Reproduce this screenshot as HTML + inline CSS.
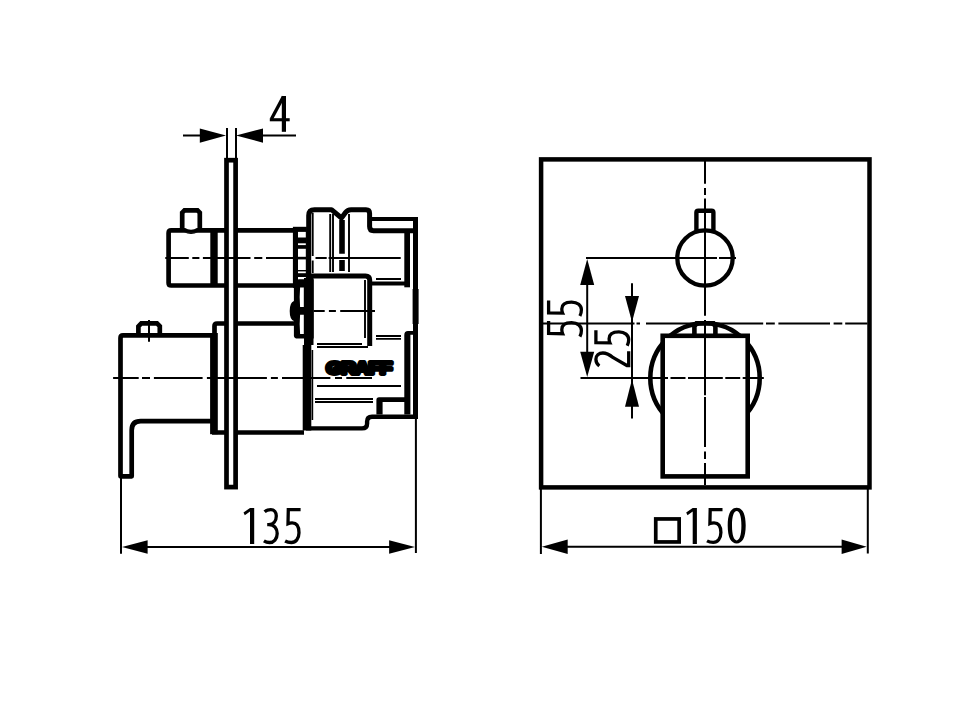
<!DOCTYPE html>
<html><head><meta charset="utf-8"><title>Drawing</title>
<style>
html,body{margin:0;padding:0;background:#fff;width:965px;height:711px;overflow:hidden;}
svg{display:block;}
.t{font-family:"Liberation Sans",sans-serif;fill:#000;}
</style></head><body>
<svg width="965" height="711" viewBox="0 0 965 711">
<rect x="0" y="0" width="965" height="711" fill="#fff"/>
<defs>
  <path id="d1" d="M6.5 0 H10.7 V36 H6.5 V3.4 L1.3 7.2 L0 4.4 Z" fill="#000" stroke="none"/>
  <path id="d3" d="M1.6 3.6 C3.2 2.2 5.5 1.6 7.8 1.6 C11.4 1.6 13.3 4.2 13.3 8 C13.3 13 10.4 16.5 5.8 16.5 H4.2 M5.8 16.5 C11.2 16.5 14.2 20 14.2 25.5 C14.2 30.8 10.8 34.4 6.6 34.4 C4.6 34.4 2.6 33.9 0.9 32.8" fill="none" stroke="#000" stroke-width="3.3"/>
  <path id="d5" d="M16.5 1.6 H4.2 L3.9 15.6 C5.2 15.0 6.6 14.8 8 14.8 C12.6 14.8 14.9 18.6 14.9 24.6 C14.9 30.6 11.6 34.4 7.2 34.4 C4.8 34.4 2.8 33.9 1 32.9" fill="none" stroke="#000" stroke-width="3.3"/>
  <path id="d0" fill-rule="evenodd" fill="#000" stroke="none" d="M9.2 -0.2 C14.6 -0.2 18.2 5.1 18.2 17.6 C18.2 30.1 14.6 35.5 9.2 35.5 C3.8 35.5 0.2 30.1 0.2 17.6 C0.2 5.1 3.8 -0.2 9.2 -0.2 Z M9.2 2.9 C12 2.9 13.9 8 13.9 17.6 C13.9 27.2 12 32.4 9.2 32.4 C6.4 32.4 4.5 27.2 4.5 17.6 C4.5 8 6.4 2.9 9.2 2.9 Z"/>
  <path id="d2" d="M1.3 5 C3.2 2.6 5.5 1.6 8 1.6 C11.8 1.6 14.3 4.4 14.3 8.6 C14.3 12.6 12.6 15.2 9.6 19 L1.8 32.6 V34.4 H16" fill="none" stroke="#000" stroke-width="3.3"/>
  <g id="d4"><rect x="12" y="0" width="4.2" height="35.8" fill="#000"/><rect x="0" y="22.2" width="19.9" height="3.1" fill="#000"/><path d="M13.6 0.6 L1.6 23" stroke="#000" stroke-width="3.3" fill="none"/></g>
</defs>

<!-- ===== RIGHT VIEW ===== -->
<g id="right" stroke="#000" fill="none" stroke-linecap="butt" stroke-linejoin="miter">
  <rect x="541.1" y="159.4" width="328.4" height="328" stroke-width="4.5"/>
  <!-- top knob circle -->
  <circle cx="705" cy="258" r="27.7" stroke-width="4.3"/>
  <path d="M696.4 233 V212.5 Q696.4 210.7 698.2 210.7 H711.6 Q713.4 210.7 713.4 212.5 V233" stroke-width="4.4" fill="none"/>
  <!-- big circle -->
  <circle cx="705" cy="378" r="54.7" stroke-width="4.6"/>
  <!-- lever knob -->
  <path d="M694.4 336 V326.5 L696.6 323.3 H713.4 L715.4 326.5 V336" stroke-width="4.6"/>
  <!-- lever rect -->
  <rect x="662.7" y="335.8" width="85" height="140.6" stroke-width="4.6" fill="#fff"/>
</g>
<g stroke="#000" fill="none" stroke-width="2">
  <!-- vertical centerline right view -->
  <path d="M705 161 V183.8 M705 188 V195 M705 198.4 V315.8 M705 320 V395.2 M705 396.9 V447 M705 451.4 V459 M705 463 V485"/>
  <!-- horizontal centerline y=323.6 -->
  <path d="M542.5 323.6 H634.5 M636.5 323.6 H640 M646 323.6 H763.2 M766 323.6 H774.8 M778.4 323.6 H830 M833.6 323.6 H842.3 M845.2 323.6 H867.5"/>
  <!-- y=258 extension/centerline -->
  <path d="M586 258 H717 M719 258 H736"/>
  <!-- y=378 extension/centerline -->
  <path d="M580.5 378 H668 M670.5 378 H685.5 M688 378 H722.8 M725.3 378 H740.2 M742.7 378 H763.8"/>
  <!-- 55 dim line -->
  <path d="M587.2 270 V366"/>
  <!-- 25 dim line -->
  <path d="M632 283.2 V418.5"/>
  <!-- 150 dim -->
  <path d="M540.9 489 V553.9 M867.8 489 V553.6 M555 546.7 H855"/>
</g>
<g fill="#000" stroke="none">
  <path d="M587.2 259 L594.2 285 L580.2 285 Z"/>
  <path d="M587.2 377 L594.2 351.8 L580.2 351.8 Z"/>
  <path d="M632 322 L639 296 L625 296 Z"/>
  <path d="M632 379.3 L639 406.7 L625 406.7 Z"/>
  <path d="M541.8 546.7 L567.7 539.5 L567.7 553.9 Z"/>
  <path d="M866.7 546.7 L841.6 539.5 L841.6 553.9 Z"/>
</g>
<rect x="655.75" y="518.95" width="23.4" height="23" stroke="#000" stroke-width="3.7" fill="none"/>

<!-- ===== LEFT VIEW DIMS ===== -->
<g stroke="#000" fill="none" stroke-width="2">
  <path d="M183 135.6 H210 M250 135.6 H296"/>
  <path d="M227 128 V158 M236 128 V158"/>
  <path d="M121 478 V553.7 M415.9 416 V553 M135 547 H400"/>
</g>
<g fill="#000" stroke="none">
  <path d="M226 135.6 L199.8 128.5 L199.8 142.7 Z"/>
  <path d="M236 135.6 L263 128.5 L263 142.7 Z"/>
  <path d="M122 547 L147.6 540.2 L147.6 553.7 Z"/>
  <path d="M415 547 L389.1 540.2 L389.1 553.7 Z"/>
</g>

<g id="texts">
  <use href="#d4" transform="translate(269.8 96)"/>
  <use href="#d1" transform="translate(243.5 508.1)"/>
  <use href="#d3" transform="translate(263 508.1)"/>
  <use href="#d5" transform="translate(284.1 508.1)"/>
  <use href="#d1" transform="translate(686.2 508)"/>
  <use href="#d5" transform="translate(706 508)"/>
  <use href="#d0" transform="translate(727.5 508)"/>
  <g transform="translate(547 337.6) rotate(-90)"><use href="#d5" transform="translate(0 0)"/><use href="#d5" transform="translate(20.6 0)"/></g>
  <g transform="translate(594.3 367.3) rotate(-90)"><use href="#d2" transform="translate(0 0)"/><use href="#d5" transform="translate(20.5 0)"/></g>
</g>

<!-- ===== LEFT VIEW ===== -->
<g id="left" stroke="#000" fill="none" stroke-width="4.7" stroke-linejoin="round">
  <!-- upper knob body -->
  <path d="M294 230.3 H171.2 Q168.6 230.3 168.6 233 V283 Q168.6 285.5 171.2 285.5 H300"/>
  <path d="M182.2 230.3 V212.6 L184.5 210.3 H197.5 L199.8 212.6 V230.3" stroke-linejoin="miter"/>
  <path d="M184.6 227.8 Q191 231.8 197.4 227.8 Z" fill="#fff" stroke="none"/>
  <path d="M184 232.3 Q191 235.8 198 232.3 Z" fill="#000" stroke="none"/>
  <rect x="210.3" y="231" width="7.4" height="55" fill="#000" stroke="none"/>
  <!-- lever -->
  <path d="M212 335.4 H123 Q120.5 335.4 120.5 338 V476.3 H131.7 V430.2 Q131.7 421.2 140.7 421.2 H212"/>
  <path d="M138.4 335.4 V326.4 L141.3 323.4 H157 L159.8 326.2 V335.4" stroke-linejoin="miter"/>
  <rect x="210.1" y="333" width="7.7" height="101.2" fill="#000" stroke="none"/>
  <path d="M214.5 334 V326 Q214.5 323.5 217 323.5 H304"/>
  <path d="M212 432.5 H304"/>
  <!-- plate -->
  <rect x="226.5" y="160.2" width="9.1" height="326.9" fill="#fff" stroke-linejoin="miter"/>
  <!-- nut -->
  <rect x="292.9" y="226.8" width="14" height="61" fill="#000" stroke="none"/>
  <g fill="#fff" stroke="none">
    <rect x="298" y="231.9" width="7.8" height="5.6"/>
    <rect x="298" y="243.3" width="7.8" height="1.8"/>
    <rect x="298" y="248.8" width="7.8" height="8"/>
    <rect x="298" y="259.4" width="7.8" height="10.6"/>
    <rect x="298" y="271.4" width="7.8" height="1.8"/>
    <rect x="298" y="277" width="7.8" height="4.8"/>
  </g>
  <!-- cartridge top -->
  <path d="M308.7 280 V215.5 Q308.7 209.7 314.5 209.7 H331.5 L341.5 218 L345.5 212.5 Q347.5 209.7 351 209.7 H366 Q369.6 209.7 369.6 213.5 V226.5 Q369.6 230.7 373.5 230.7 H413" stroke-width="5"/>
  <path d="M369.6 219 H415.5" stroke-width="4.2"/>
  <path d="M415.5 216.9 V416.5" stroke-width="5"/>
  <path d="M339.2 220 H344.8 V253.7 H339.2 Z M339.2 260 H344.8 V271 H339.2 Z" fill="#000" stroke="none"/>
  <path d="M312.7 213 V256 M312.7 260.5 V273 M330.2 214 V272 M333 214 V272 M349 214 V272" stroke-width="1.9"/>
  <path d="M311 276 H365.5 Q369.7 276 369.7 280 V346" stroke-width="5"/>
  <path d="M372 283.5 H406" stroke-width="3.8"/>
  <path d="M376 279 H401" stroke-width="2"/>
  <rect x="404.3" y="231" width="5.7" height="56.3" fill="#000" stroke="none"/>
  <rect x="412.6" y="289" width="6" height="35" fill="#000" stroke="none"/>
  <path d="M365 280 V338" stroke-width="1.9"/>
  <path d="M376 336 H401 M376 338.8 H401" stroke-width="1.8"/>
  <path d="M317 344 H362 M317 347 H368" stroke-width="2"/>
  <path d="M404.3 414.4 V335 Q404.3 331 408 331 H413 V334.8 H410.4 V414.4 Z" fill="#000" stroke="none"/>
  <!-- main thick left vertical -->
  <rect x="304" y="278" width="9.5" height="67" fill="#000" stroke="none"/>
  <rect x="302.7" y="345" width="8.6" height="85.5" fill="#000" stroke="none"/>
  <path d="M312.4 350 V420" stroke-width="1.6"/>
  <!-- blob -->
  <path d="M313.7 279.3 H298.5 Q294.6 281 293.9 287.6 V301 Q289.7 302.5 289.7 311 Q289.7 319.5 293.9 321 V336 Q294.5 338.6 297.5 338.6 H313.7 Z" fill="#000" stroke="none"/>
  <path d="M300.1 287.6 H303.8 V306.9 H300.1 Q299.2 297 300.1 287.6 Z M300.1 314.7 H303.8 V333.9 H300.1 Q299.2 324 300.1 314.7 Z" fill="#fff" stroke="none"/>
  <!-- lower section -->
  <path d="M317 386 H401" stroke-width="2"/>
  <path d="M315 399.1 H373 M315 402.1 H373" stroke-width="2"/>
  <path d="M376.4 414.4 V400 Q376.4 397.3 379 397.3 H405 V402 H382.6 V414.4 Z" fill="#000" stroke="none"/>
  <path d="M306 428.4 H362 Q367.1 428.4 367.1 423.5 V421.5 Q367.1 416.7 372 416.7 H418" stroke-width="4.4"/>
</g>
<g id="graff"><text x="0" y="0" font-size="17.2" transform="translate(326.2 373.9) scale(1.2 1) rotate(0.01)" style="font-family:'Liberation Sans',sans-serif;font-weight:bold" fill="#000" stroke="#000" stroke-width="3.8" stroke-linejoin="round" letter-spacing="-1">GRAFF</text></g>
<g stroke="#000" fill="none" stroke-width="2">
  <!-- left view centerlines -->
  <path d="M165.3 258 H188.8 M192.3 258 H199.4 M202.9 258 H250.5 M254.2 258 H262.3 M266 258 H294"/>
  <path d="M315.5 258 H326.7 M328.6 258 H400.7"/>
  <path d="M149 319.9 V341.7"/>
  <path d="M113.1 378 H138.7 M142 378 H150 M153.9 378 H202.6 M206.9 378 H266.9 M270.9 378 H277.9 M282 378 H330.4 M335 378 H342 M346.3 378 H372"/>
  <path d="M313.5 311 H324.7 M328.9 311 H335.9 M340.2 311 H375"/>
</g>
</svg>
</body></html>
